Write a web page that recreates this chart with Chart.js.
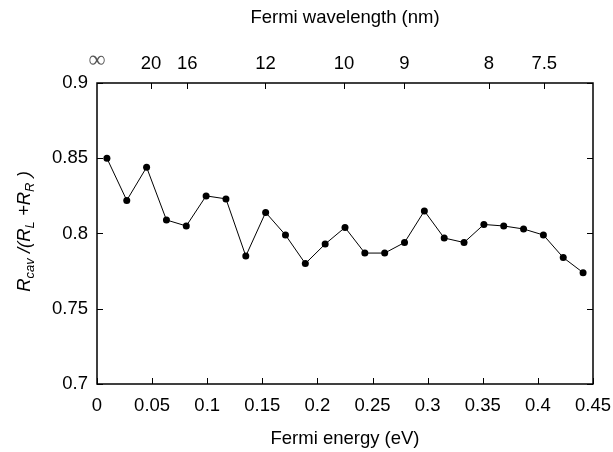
<!DOCTYPE html>
<html>
<head>
<meta charset="utf-8">
<script src="https://cdn.jsdelivr.net/npm/chart.js@4.4.1/dist/chart.umd.min.js"></script>
<style>
  html, body { margin: 0; padding: 0; background: #fff; }
  #wrap { width: 613px; height: 452px; }
</style>
</head>
<body>
<div id="wrap"><canvas id="myChart" width="613" height="452"></canvas></div>
<script>
// Fermi energy (eV)
var energy = [0.009, 0.027, 0.045, 0.063, 0.081, 0.099, 0.117, 0.135, 0.153,
              0.171, 0.189, 0.207, 0.225, 0.243, 0.261, 0.279, 0.297, 0.315,
              0.333, 0.351, 0.369, 0.387, 0.405, 0.423, 0.441];
// R_cav / (R_L + R_R)
var ratio = [0.850, 0.822, 0.844, 0.809, 0.805, 0.825, 0.823, 0.785, 0.814,
             0.799, 0.780, 0.793, 0.804, 0.787, 0.787, 0.794, 0.815, 0.797,
             0.794, 0.806, 0.805, 0.803, 0.799, 0.784, 0.774];
// top axis: Fermi wavelength (nm)
var waveLengths = [Infinity, 20, 16, 12, 10, 9, 8, 7.5];
var waveLabels = ["\u221E", "20", "16", "12", "10", "9", "8", "7.5"];

// wavelength -> energy used by the top axis
function lamToE(l) {
    if (l === Infinity) return 0;
    return 23.35 / (l * l) - 0.0093;
}

var FONT = "'Liberation Sans', Arial, Helvetica, sans-serif";
var FS = 18.5;

var points = energy.map(function (e, i) { return {x: e, y: ratio[i]}; });

function noPad(s) {
    s.paddingLeft = 0; s.paddingRight = 0; s.paddingTop = 0; s.paddingBottom = 0;
}

// frame + inward ticks (gnuplot style)
var framePlugin = {
    id: 'frame',
    afterDraw: function (chart) {
        var ctx = chart.ctx;
        var a = chart.chartArea;
        var sx = chart.scales.x, sx2 = chart.scales.x2, sy = chart.scales.y;
        var tl = 6;
        ctx.save();
        ctx.strokeStyle = '#000';
        ctx.lineWidth = 1;
        ctx.beginPath();
        sx.ticks.forEach(function (t) {
            var px = Math.round(sx.getPixelForValue(t.value)) + 0.5;
            ctx.moveTo(px, a.bottom); ctx.lineTo(px, a.bottom - tl);
        });
        sx2.ticks.forEach(function (t) {
            if (t.value <= 0) return;
            var px = Math.round(sx2.getPixelForValue(t.value)) + 0.5;
            ctx.moveTo(px, a.top); ctx.lineTo(px, a.top + tl);
        });
        sy.ticks.forEach(function (t) {
            var py = Math.round(sy.getPixelForValue(t.value)) + 0.5;
            ctx.moveTo(a.left, py); ctx.lineTo(a.left + tl, py);
            ctx.moveTo(a.right, py); ctx.lineTo(a.right - tl, py);
        });
        ctx.stroke();
        ctx.lineWidth = 1.5;
        ctx.strokeRect(a.left, a.top, a.right - a.left, a.bottom - a.top);

        // y axis title with subscripts
        var parts = [
            ['R', FS, 0], ['cav', 13, 4], [' /(', FS, 0], ['R', FS, 0], ['L', 13, 4],
            [' +', FS, 0], ['R', FS, 0], ['R', 13, 4], [' )', FS, 0]
        ];
        var total = 0;
        parts.forEach(function (p) {
            ctx.font = 'italic ' + p[1] + 'px ' + FONT;
            total += ctx.measureText(p[0]).width;
        });
        ctx.translate(30, (a.top + a.bottom) / 2 - 2);
        ctx.rotate(-Math.PI / 2);
        ctx.fillStyle = '#000';
        ctx.textBaseline = 'alphabetic';
        var x = -total / 2;
        parts.forEach(function (p) {
            ctx.font = 'italic ' + p[1] + 'px ' + FONT;
            ctx.fillText(p[0], x, p[2]);
            x += ctx.measureText(p[0]).width;
        });
        ctx.restore();
    }
};

new Chart("myChart", {
    type: "line",
    data: {
        datasets: [{
            data: points,
            borderColor: "#000",
            backgroundColor: "#000",
            borderWidth: 1,
            pointRadius: 3.5,
            pointBackgroundColor: "#000",
            pointBorderWidth: 0,
            tension: 0,
            fill: false
        }]
    },
    options: {
        responsive: false,
        animation: false,
        layout: {padding: {left: 0, right: 20, top: 0, bottom: 0}},
        plugins: {legend: {display: false}, tooltip: {enabled: false}},
        scales: {
            x: {
                type: 'linear', position: 'bottom', min: 0, max: 0.45,
                grid: {display: false, drawTicks: false},
                border: {display: false},
                ticks: {
                    stepSize: 0.05, padding: 11, maxRotation: 0, autoSkip: false,
                    color: '#000', font: {family: FONT, size: FS},
                    callback: function (v) { return String(+v.toFixed(2)); }
                },
                title: {display: true, text: 'Fermi energy (eV)', color: '#000',
                        font: {family: FONT, size: FS}, padding: {top: 0, bottom: 2}},
                afterFit: function (s) { s.height = 68; noPad(s); }
            },
            x2: {
                type: 'linear', position: 'top', min: 0, max: 0.45,
                grid: {display: false, drawTicks: false},
                border: {display: false},
                afterBuildTicks: function (s) {
                    s.ticks = waveLengths.map(function (l) { return {value: lamToE(l)}; });
                },
                ticks: {
                    padding: 8, maxRotation: 0, autoSkip: false,
                    color: function (c) { return c.index === 0 ? '#555' : '#000'; },
                    font: function (c) {
                        return c.index === 0 ? {family: 'DejaVu Sans', size: 24, weight: 200}
                                             : {family: FONT, size: FS};
                    },
                    callback: function (v, i) { return waveLabels[i]; }
                },
                title: {display: true, text: 'Fermi wavelength (nm)', color: '#000',
                        font: {family: FONT, size: FS}, padding: {top: 7, bottom: 0}},
                afterFit: function (s) { s.height = 83; noPad(s); }
            },
            y: {
                type: 'linear', min: 0.7, max: 0.9,
                grid: {display: false, drawTicks: false},
                border: {display: false},
                ticks: {
                    stepSize: 0.05, padding: 9,
                    color: '#000', font: {family: FONT, size: FS},
                    callback: function (v) { return String(+v.toFixed(2)); }
                },
                afterFit: function (s) { s.width = 97; noPad(s); }
            }
        }
    },
    plugins: [framePlugin]
});
</script>
</body>
</html>
